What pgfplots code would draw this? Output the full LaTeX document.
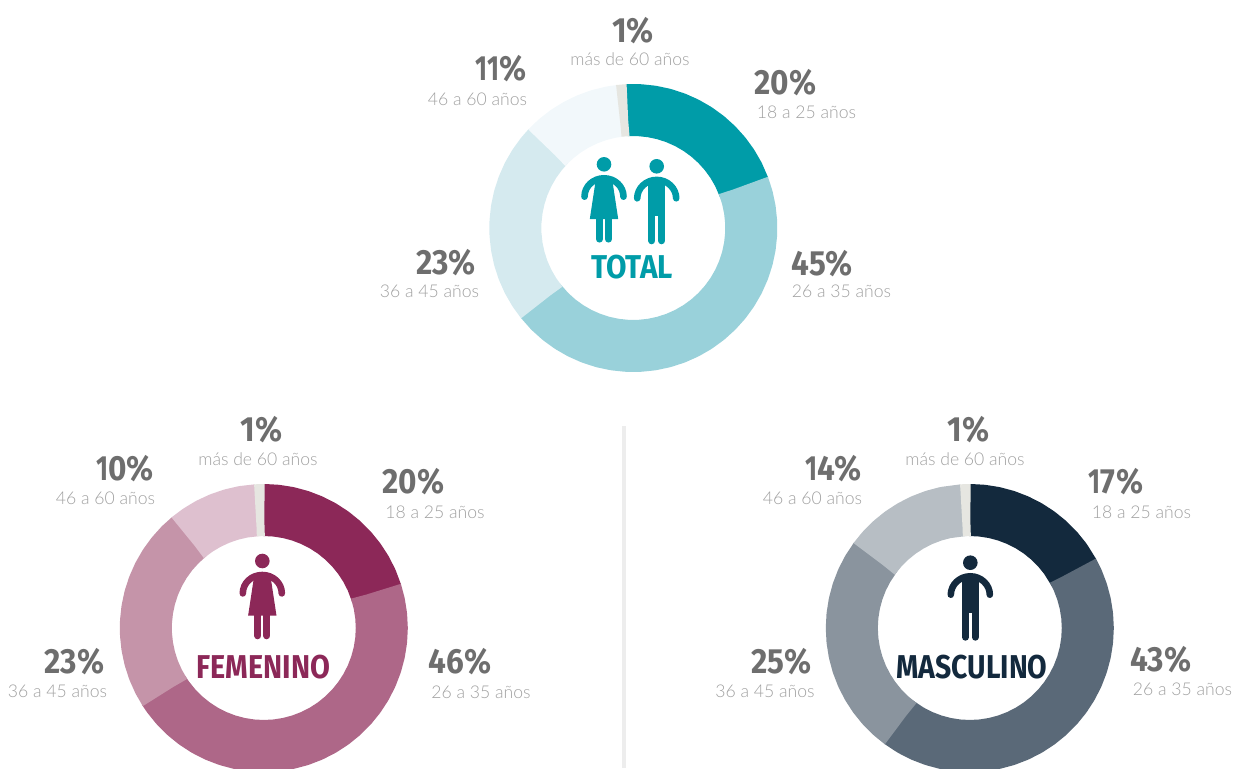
\documentclass[border=0pt]{standalone}
\usepackage{fontspec}
\usepackage{pgfplots}
\usepgfplotslibrary{polar}
\pgfplotsset{compat=1.18}
\setmainfont{Lato Light}
\newfontfamily\numfont[FakeStretch=0.9]{Fira Sans}

\definecolor{numgray}{HTML}{6E6E6E}
\definecolor{labgray}{HTML}{A0A0A0}
\definecolor{rest}{HTML}{E6E6E1}
% total
\definecolor{ta}{HTML}{009CA8}
\definecolor{tb}{HTML}{99D1DA}
\definecolor{tc}{HTML}{D5EAEF}
\definecolor{td}{HTML}{F2F8FB}
% femenino
\definecolor{fa}{HTML}{8C2858}
\definecolor{fb}{HTML}{AE6788}
\definecolor{fc}{HTML}{C594A9}
\definecolor{fd}{HTML}{DEC0CF}
% masculino
\definecolor{ma}{HTML}{13293D}
\definecolor{mb}{HTML}{5A6978}
\definecolor{mc}{HTML}{8A949E}
\definecolor{md}{HTML}{B7BEC4}

\pgfplotsset{
  donut/.style={
    hide axis, scale only axis, width=288pt, height=288pt,
    xmin=0, xmax=360, ymin=0, ymax=144, clip=false, anchor=center
  },
  slice/.style={no markers, line width=52pt, line cap=butt, line join=round, color=#1}
}

% x y of the baseline, then the text
\newcommand\pct[3]{%
  \node[anchor=base, text=numgray, font=\numfont\bfseries\fontsize{35}{35}\selectfont, inner sep=0pt] at (#1pt,-#2pt) {#3\%};}
\newcommand\lab[3]{%
  \node[anchor=base, text=labgray, font=\fontsize{17.6}{19}\selectfont, inner sep=0pt] at (#1pt,-#2pt) {#3};}
\newcommand\ttl[5]{%
  \node[anchor=base, text=#3, font=\numfont\bfseries\fontsize{33}{34}\selectfont, inner sep=0pt] at (#1pt,-#2pt) {\scalebox{#4}[1]{#5}};}
\newcommand\one[1]{\scalebox{.82}[1]{#1}}

% figures: origin at the head, y going down, 1 unit = 1 pixel
\newcommand\woman[3]{%
  \begin{scope}[shift={(#1pt,-#2pt)}, x=1pt, y=-1pt, color=#3, fill=#3]
    \fill (0,0) circle[radius=7.3pt];
    \draw[line width=6.6pt, line cap=round] (-19.5,32.4) .. controls (-19.5,22) and (-10.7,14) .. (0,14) .. controls (10.7,14) and (19.5,22) .. (19.5,32.4);
    \fill (-8,14) -- (8,14) -- (14.2,54.7) -- (-14.2,54.7) -- cycle;
    \draw[line width=7.2pt, line cap=round] (-4.5,52) -- (-4.5,74.7);
    \draw[line width=7.2pt, line cap=round] (4.5,52) -- (4.5,74.7);
  \end{scope}}
\newcommand\man[3]{%
  \begin{scope}[shift={(#1pt,-#2pt)}, x=1pt, y=-1pt, color=#3, fill=#3]
    \fill (0,0) circle[radius=7.3pt];
    \draw[line width=6.6pt, line cap=round] (-19.5,32) .. controls (-19.5,22) and (-10.7,13.6) .. (0,13.6) .. controls (10.7,13.6) and (19.5,22) .. (19.5,32);
    \fill (-8.4,14) rectangle (8.4,50);
    \draw[line width=7pt, line cap=round] (-4.9,46) -- (-4.9,74.5);
    \draw[line width=7pt, line cap=round] (4.9,46) -- (4.9,74.5);
  \end{scope}}

\begin{document}
\begin{tikzpicture}
\path[use as bounding box, clip] (0pt,0pt) rectangle (1233pt,-768pt);

% separator
\fill[black!7] (622pt,-426pt) rectangle (626pt,-768pt);

% TOTAL: angle in degrees, radius of the ring's middle
% each slice runs a little under the next one, so no white seam shows;
% the short first step keeps the slice's edge radial
\begin{polaraxis}[donut, at={(633.3pt,-228pt)}]
\addplot[slice=ta] coordinates {(93,118)(92.8,118)(87,118)(81,118)(75,118)(69,118)(63,118)(57,118)(51,118)(45,118)(39,118)(33,118)(27,118)(20,118)};
\addplot[slice=tb] coordinates {(21,118)(20.8,118)(15,118)(9,118)(3,118)(-3,118)(-9,118)(-15,118)(-21,118)(-27,118)(-33,118)(-39,118)(-45,118)(-51,118)(-57,118)(-63,118)(-69,118)(-75,118)(-81,118)(-87,118)(-93,118)(-99,118)(-105,118)(-111,118)(-117,118)(-123,118)(-129,118)(-135,118)(-142,118)};
\addplot[slice=tc] coordinates {(-141,118)(-141.2,118)(-147,118)(-153,118)(-159,118)(-165,118)(-171,118)(-177,118)(-183,118)(-189,118)(-195,118)(-201,118)(-207,118)(-213,118)(-219,118)(-224,118)};
\addplot[slice=td] coordinates {(-223,118)(-223.2,118)(-229,118)(-235,118)(-241,118)(-247,118)(-253,118)(-259,118)(-264,118)};
\addplot[slice=rest] coordinates {(-263,118)(-263.2,118)(-267.1,118)(-267.3,118)};
\end{polaraxis}

% FEMENINO
\begin{polaraxis}[donut, at={(263.8pt,-628pt)}]
\addplot[slice=fa] coordinates {(90,118)(89.8,118)(84,118)(78,118)(72,118)(66,118)(60,118)(54,118)(48,118)(42,118)(36,118)(30,118)(24,118)(17,118)};
\addplot[slice=fb] coordinates {(18,118)(17.8,118)(12,118)(6,118)(0,118)(-6,118)(-12,118)(-18,118)(-24,118)(-30,118)(-36,118)(-42,118)(-48,118)(-54,118)(-60,118)(-66,118)(-72,118)(-78,118)(-84,118)(-90,118)(-96,118)(-102,118)(-108,118)(-114,118)(-120,118)(-126,118)(-132,118)(-138,118)(-144,118)(-148,118)};
\addplot[slice=fc] coordinates {(-147,118)(-147.2,118)(-153,118)(-159,118)(-165,118)(-171,118)(-177,118)(-183,118)(-189,118)(-195,118)(-201,118)(-207,118)(-213,118)(-219,118)(-225,118)(-231,118)};
\addplot[slice=fd] coordinates {(-230,118)(-230.2,118)(-236,118)(-242,118)(-248,118)(-254,118)(-260,118)(-267,118)};
\addplot[slice=rest] coordinates {(-266,118)(-266.2,118)(-270.1,118)(-270.3,118)};
\end{polaraxis}

% MASCULINO
\begin{polaraxis}[donut, at={(969.8pt,-628pt)}]
\addplot[slice=ma] coordinates {(90,118)(89.8,118)(84,118)(78,118)(72,118)(66,118)(60,118)(54,118)(48,118)(42,118)(36,118)(28,118)};
\addplot[slice=mb] coordinates {(29,118)(28.8,118)(24,118)(18,118)(12,118)(6,118)(0,118)(-6,118)(-12,118)(-18,118)(-24,118)(-30,118)(-36,118)(-42,118)(-48,118)(-54,118)(-60,118)(-66,118)(-72,118)(-78,118)(-84,118)(-90,118)(-96,118)(-102,118)(-108,118)(-114,118)(-120,118)(-127,118)};
\addplot[slice=mc] coordinates {(-126,118)(-126.2,118)(-132,118)(-138,118)(-144,118)(-150,118)(-156,118)(-162,118)(-168,118)(-174,118)(-180,118)(-186,118)(-192,118)(-198,118)(-204,118)(-210,118)(-217,118)};
\addplot[slice=md] coordinates {(-216,118)(-216.2,118)(-222,118)(-228,118)(-234,118)(-240,118)(-246,118)(-252,118)(-258,118)(-267,118)};
\addplot[slice=rest] coordinates {(-266,118)(-266.2,118)(-270.1,118)(-270.3,118)};
\end{polaraxis}

% labels, total
\pct{633}{42}{1}            \lab{630}{65}{más de 60 años}
\pct{501}{80}{\one{11}}     \lab{477.5}{105}{46 a 60 años}
\pct{785.5}{94}{20}         \lab{806.5}{118}{18 a 25 años}
\pct{822}{275}{45}          \lab{841.5}{297}{26 a 35 años}
\pct{446}{274}{23}          \lab{429.5}{297}{36 a 45 años}
% labels, femenino
\pct{261.5}{441}{1}         \lab{258}{465}{más de 60 años}
\pct{125}{480}{\one{1}0}    \lab{105.5}{504}{46 a 60 años}
\pct{413.5}{493}{20}        \lab{435}{518}{18 a 25 años}
\pct{460}{673}{46}          \lab{481}{698}{26 a 35 años}
\pct{74.5}{673}{23}         \lab{57.5}{697}{36 a 45 años}
% labels, masculino
\pct{968.5}{441}{1}         \lab{965}{465}{más de 60 años}
\pct{833.5}{480}{\one{1}4}  \lab{812.5}{504}{46 a 60 años}
\pct{1116}{493}{\one{1}7}   \lab{1141.5}{518}{18 a 25 años}
\pct{1161}{671}{43}         \lab{1182.5}{695}{26 a 35 años}
\pct{781.5}{673}{25}        \lab{765}{697}{36 a 45 años}

% centres
\woman{604}{164.3}{ta}
\man{656.7}{166.3}{ta}
\ttl{632}{278}{ta}{1}{TOTAL}
\woman{262.3}{561}{fa}
\ttl{263.5}{678}{fa}{0.97}{FEMENINO}
\man{970.3}{562.7}{ma}
\ttl{972}{678}{ma}{0.955}{MASCULINO}
\end{tikzpicture}
\end{document}
